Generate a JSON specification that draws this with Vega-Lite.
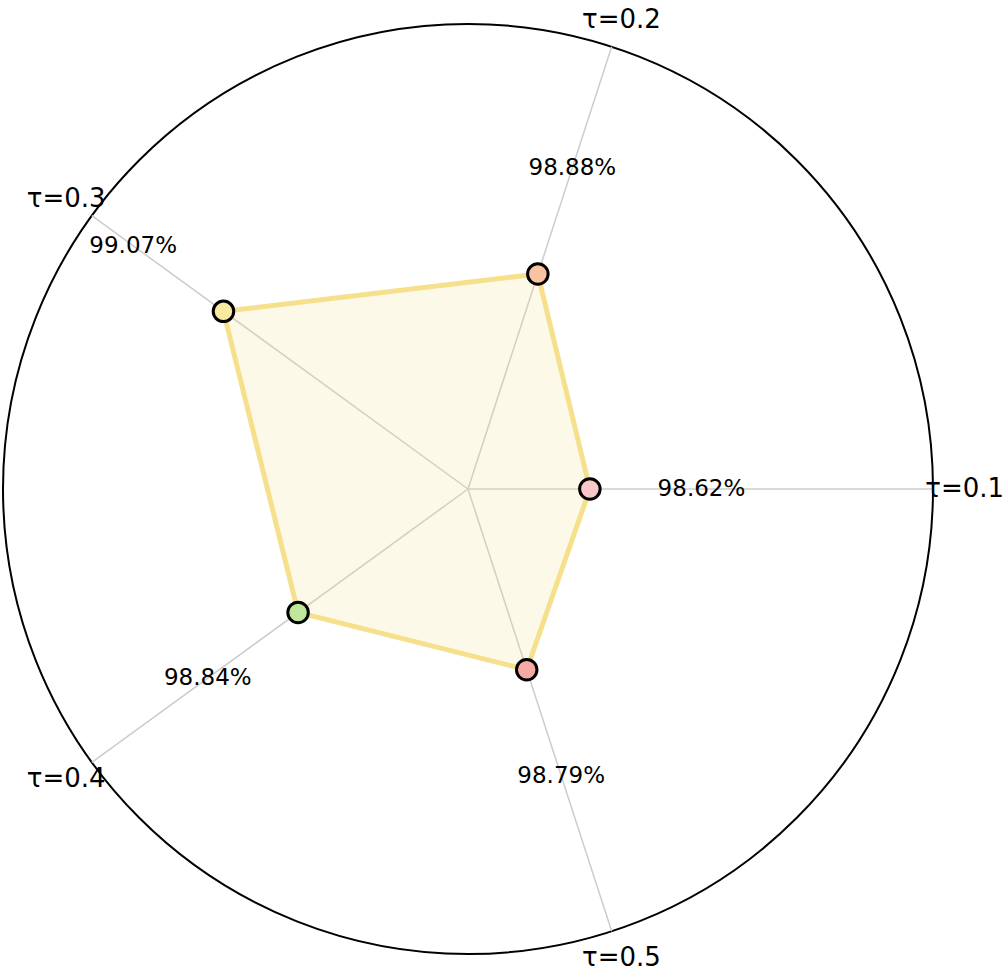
{
  "$schema": "https://vega.github.io/schema/vega-lite/v6.json",
  "width": 1005,
  "height": 973,
  "padding": 0,
  "autosize": {"type": "none"},
  "background": "white",
  "config": {"view": {"stroke": null}, "font": "DejaVu Sans"},
  "data": {
    "values": [
      {"tau": "τ=0.1", "idx": 0, "acc": 98.62},
      {"tau": "τ=0.2", "idx": 1, "acc": 98.88},
      {"tau": "τ=0.3", "idx": 2, "acc": 99.07},
      {"tau": "τ=0.4", "idx": 3, "acc": 98.84},
      {"tau": "τ=0.5", "idx": 4, "acc": 98.79}
    ]
  },
  "transform": [
    {"calculate": "datum.idx * 2 * PI / 5", "as": "ang"},
    {"calculate": "(datum.acc - 98.316) / 1.16", "as": "r"},
    {"calculate": "0", "as": "z"},
    {"calculate": "cos(datum.ang)", "as": "ux"},
    {"calculate": "sin(datum.ang)", "as": "uy"},
    {"calculate": "datum.r * datum.ux", "as": "px"},
    {"calculate": "datum.r * datum.uy", "as": "py"},
    {"calculate": "(datum.r + 0.24) * datum.ux", "as": "lx"},
    {"calculate": "(datum.r + 0.24) * datum.uy", "as": "ly"},
    {"calculate": "1.068 * datum.ux", "as": "tx"},
    {"calculate": "1.061 * datum.uy", "as": "ty"},
    {"calculate": "format(datum.acc, '.2f') + '%'", "as": "pct"}
  ],
  "layer": [
    {
      "transform": [{"filter": "datum.idx == 0"}],
      "mark": {"type": "point", "shape": "circle", "size": 864900, "filled": false, "stroke": "black", "strokeWidth": 2, "opacity": 1},
      "encoding": {
        "x": {"field": "z", "type": "quantitative", "scale": {"domain": [-1.00645, 1.15484], "nice": false, "zero": false}, "axis": null},
        "y": {"field": "z", "type": "quantitative", "scale": {"domain": [-1.04086, 1.05161], "nice": false, "zero": false}, "axis": null}
      }
    },
    {
      "mark": {"type": "rule", "color": "#cccccc", "strokeWidth": 1.5},
      "encoding": {
        "x": {"field": "z", "type": "quantitative", "scale": {"domain": [-1.00645, 1.15484], "nice": false, "zero": false}, "axis": null},
        "y": {"field": "z", "type": "quantitative", "scale": {"domain": [-1.04086, 1.05161], "nice": false, "zero": false}, "axis": null},
        "x2": {"field": "ux"},
        "y2": {"field": "uy"}
      }
    },
    {
      "mark": {"type": "line", "interpolate": "linear-closed", "stroke": "#f6e08c", "strokeWidth": 5, "fill": "#f6e08c", "fillOpacity": 0.2},
      "encoding": {
        "x": {"field": "px", "type": "quantitative", "scale": {"domain": [-1.00645, 1.15484], "nice": false, "zero": false}, "axis": null},
        "y": {"field": "py", "type": "quantitative", "scale": {"domain": [-1.04086, 1.05161], "nice": false, "zero": false}, "axis": null},
        "order": {"field": "idx", "type": "quantitative"}
      }
    },
    {
      "mark": {"type": "point", "shape": "circle", "size": 420, "filled": true, "stroke": "black", "strokeWidth": 3, "opacity": 1},
      "encoding": {
        "x": {"field": "px", "type": "quantitative", "scale": {"domain": [-1.00645, 1.15484], "nice": false, "zero": false}, "axis": null},
        "y": {"field": "py", "type": "quantitative", "scale": {"domain": [-1.04086, 1.05161], "nice": false, "zero": false}, "axis": null},
        "fill": {"field": "tau", "type": "nominal", "legend": null, "scale": {"domain": ["τ=0.1", "τ=0.2", "τ=0.3", "τ=0.4", "τ=0.5"], "range": ["#f8c8c8", "#f9c3a2", "#f8e9a0", "#bfe69a", "#f5aaa4"]}}
      }
    },
    {
      "mark": {"type": "text", "fontSize": 23, "align": "center", "baseline": "middle", "color": "black"},
      "encoding": {
        "x": {"field": "lx", "type": "quantitative", "scale": {"domain": [-1.00645, 1.15484], "nice": false, "zero": false}, "axis": null},
        "y": {"field": "ly", "type": "quantitative", "scale": {"domain": [-1.04086, 1.05161], "nice": false, "zero": false}, "axis": null},
        "text": {"field": "pct", "type": "nominal"}
      }
    },
    {
      "mark": {"type": "text", "fontSize": 26, "align": "center", "baseline": "middle", "color": "black"},
      "encoding": {
        "x": {"field": "tx", "type": "quantitative", "scale": {"domain": [-1.00645, 1.15484], "nice": false, "zero": false}, "axis": null},
        "y": {"field": "ty", "type": "quantitative", "scale": {"domain": [-1.04086, 1.05161], "nice": false, "zero": false}, "axis": null},
        "text": {"field": "tau", "type": "nominal"}
      }
    }
  ]
}
